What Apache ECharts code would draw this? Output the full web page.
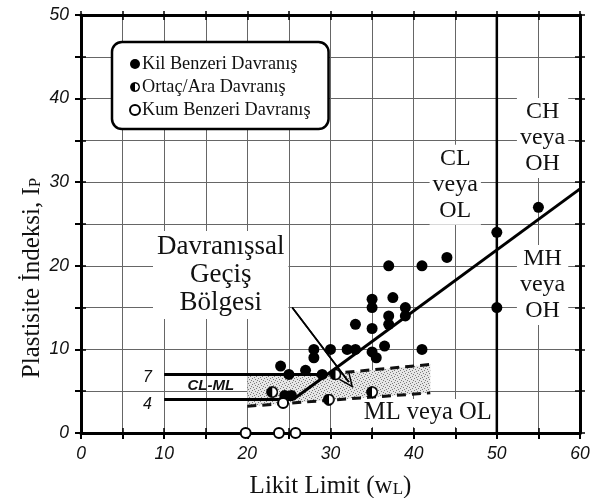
<!DOCTYPE html>
<html><head><meta charset="utf-8">
<script src="https://cdn.jsdelivr.net/npm/echarts@6/dist/echarts.min.js"></script>
<style>html,body{margin:0;padding:0;background:#fff}#chart{width:590px;height:498px}</style>
</head><body><div id="chart"></div>
<script>
// Plasticity chart: liquid limit wL (x) vs plasticity index IP (y)
const clayLike = [[50,24],[55,27],[50,15],[44,21],[41,20],[37,20],[41,10],[37.5,16.2],[35,16],[35,15],[39,15],[39,14],[37,14],[37,13],[33,13],[35,12.5],[36.5,10.4],[30,10],[32,10],[33,10],[35,9.7],[35.5,9],[28,10],[28,9],[24,8],[25,7],[27,7.5],[29,7],[24.5,4.5],[25.3,4.5]];
const intermediate = [[23,4.9],[35,4.9],[29.8,4],[30.6,7]];
const sandLike = [[19.8,0],[23.8,0],[25.8,0],[24.3,3.6]];
const aLine = [[25.5,4],[60,29.2]];
const clml7 = [[10,7],[29.6,7]];
const clml4 = [[10,4],[25.5,4]];
const boundary50 = [[50,0],[50,50]];
const zoneUpper = [[20,7],[29.6,7],[42,8.2]];
const zoneLower = [[20,3.2],[42,4.8]];
const zoneUpperDash = [[30,7.1],[42,8.2]];
const zoneLowerDash = [[20,3.2],[42,4.8]];
const arrowPath = [[25.4,15],[32.2,6.1]];
const xTicks = [0,10,20,30,40,50,60];
const yTicks = [0,10,20,30,40,50];
const names = ['Kil Benzeri Davranış','Ortaç/Ara Davranış','Kum Benzeri Davranış'];

const SERIF = '"Liberation Serif","Times New Roman",serif';
const SANS = '"Liberation Sans",Arial,sans-serif';
const INK = '#111';

// half-filled marker image
function halfMarker() {
  const c = document.createElement('canvas'); c.width = 32; c.height = 32;
  const g = c.getContext('2d');
  g.beginPath(); g.arc(16,16,13.5,0,Math.PI*2); g.fillStyle='#fff'; g.fill();
  g.beginPath(); g.moveTo(16,2.5); g.arc(16,16,13.5,-Math.PI/2,Math.PI/2,true); g.closePath(); g.fillStyle='#000'; g.fill();
  g.beginPath(); g.arc(16,16,13.5,0,Math.PI*2); g.lineWidth=4.5; g.strokeStyle='#000'; g.stroke();
  return 'image://' + c.toDataURL();
}
// stippled fill for the transition zone
function stipple() {
  const c = document.createElement('canvas'); c.width = 6; c.height = 6;
  const g = c.getContext('2d');
  g.fillStyle = '#e6e6e6'; g.fillRect(0,0,6,6);
  g.fillStyle = '#7a7a7a';
  [[0,0],[3,1],[1,3],[4,4],[5,2],[2,5]].forEach(p => g.fillRect(p[0],p[1],1,1));
  return c;
}

const chart = echarts.init(document.getElementById('chart'));

function baseAxis(pos, extra) {
  return Object.assign({
    type:'value', position:pos, min:0, interval:5,
    axisLine:{show:false, onZero:false},
    axisTick:{show:true, inside:true, length:5, lineStyle:{color:'#000', width:1.5}},
    axisLabel:{show:false}, splitLine:{show:false}
  }, extra);
}

const tickLabel = {fontFamily:SANS, fontStyle:'italic', fontSize:17.5, color:INK};
const hidden = {color:'transparent', opacity:1};

chart.setOption({
  animation:false,
  grid:{left:81, right:10, top:15, bottom:65, outerBoundsMode:'none', containLabel:false},
  xAxis:[
    baseAxis('bottom', {max:60,
      axisLine:{show:true, onZero:false, lineStyle:{color:'#000', width:3}},
      axisTick:{show:true, inside:false, length:6, lineStyle:{color:'#000', width:2}},
      axisLabel:Object.assign({show:true, margin:12, formatter:v => xTicks.includes(v) ? String(v) : ''}, tickLabel),
      splitLine:{show:true, lineStyle:{color:'#666', width:1}},
      name:'Likit Limit (w{s|L})', nameLocation:'middle', nameGap:41,
      nameTextStyle:{fontFamily:SERIF, fontSize:25, color:INK, rich:{s:{fontFamily:SERIF, fontSize:17, color:INK, padding:[7,0,0,0]}}}
    }),
    baseAxis('bottom', {max:60}),
    baseAxis('top', {max:60, axisLine:{show:true, onZero:false, lineStyle:{color:'#000', width:3}},
      axisTick:{show:true, inside:false, length:4, lineStyle:{color:'#000', width:1.5}}}),
    baseAxis('top', {max:60})
  ],
  yAxis:[
    baseAxis('left', {max:50,
      axisLine:{show:true, onZero:false, lineStyle:{color:'#000', width:3}},
      axisTick:{show:true, inside:false, length:6, lineStyle:{color:'#000', width:2}},
      axisLabel:Object.assign({show:true, margin:12, formatter:v => yTicks.includes(v) ? String(v) : ''}, tickLabel),
      splitLine:{show:true, lineStyle:{color:'#666', width:1}}
    }),
    baseAxis('left', {max:50}),
    baseAxis('right', {max:50, axisLine:{show:true, onZero:false, lineStyle:{color:'#000', width:3}},
      axisTick:{show:true, inside:false, length:5, lineStyle:{color:'#000', width:1.5}}}),
    baseAxis('right', {max:50})
  ],
  graphic:[
    { type:'text', x:32, y:278, rotation:Math.PI/2, z:10,
      style:{text:'Plastisite İndeksi, I{s|P}', align:'center', verticalAlign:'middle',
        font:'25px "Liberation Serif", serif', fill:INK,
        rich:{s:{fontFamily:SERIF, fontSize:17, fill:INK, padding:[7,0,0,0]}}} }
  ],
  legend:{
    data:names, orient:'vertical', left:112, top:42,
    backgroundColor:'#fff', borderColor:'#000', borderWidth:2.5, borderRadius:10,
    padding:[12,18,9,17], itemWidth:10, itemHeight:10, itemGap:3,
    textStyle:{fontFamily:SERIF, fontSize:18.3, color:INK, lineHeight:20, padding:[0,0,0,-3]},
    selectedMode:false
  },
  series:[
    { type:'custom', silent:true, z:1, data:[[0,0]],
      renderItem:(params, api) => {
        const pts = zoneUpper.map(p => api.coord(p)).concat(zoneLower.slice().reverse().map(p => api.coord(p)));
        return {type:'polygon', shape:{points:pts}, style:{fill:{image:stipple(), repeat:'repeat'}}};
      }},
    { type:'line', data:zoneUpperDash, symbol:'none', z:2, lineStyle:{color:'#111', width:3, type:[9,6]} },
    { type:'line', data:zoneLowerDash, symbol:'none', z:2, lineStyle:{color:'#111', width:3, type:[9,6]} },
    { type:'line', data:clml7, symbol:'none', z:3, lineStyle:{color:'#000', width:3} },
    { type:'line', data:clml4, symbol:'none', z:3, lineStyle:{color:'#000', width:3} },
    { type:'line', data:boundary50, symbol:'none', z:3, lineStyle:{color:'#000', width:2.5} },
    { type:'line', data:aLine, symbol:'none', z:3, lineStyle:{color:'#000', width:3} },
    { type:'line', data:arrowPath, symbol:'none', z:6, lineStyle:{color:'#000', width:1.6},
      markLine:{silent:true, symbol:['none','path://M6,0 L12,13 L10.6,13 L6,3.2 L1.4,13 L0,13 Z'], symbolSize:[13,15],
        label:{show:false}, lineStyle:{color:'#000', width:1.6, type:'solid'},
        data:[[{coord:arrowPath[0]},{coord:arrowPath[1]}]]} },
    { name:names[0], type:'scatter', data:clayLike, symbol:'circle', symbolSize:11, z:5, itemStyle:{color:'#000', opacity:1} },
    { name:names[1], type:'scatter', data:intermediate, symbol:halfMarker(), symbolSize:12, z:5, itemStyle:{opacity:1} },
    { name:names[2], type:'scatter', data:sandLike, symbol:'circle', symbolSize:10, z:5,
      itemStyle:{color:'#fff', borderColor:'#000', borderWidth:2, opacity:1} },
    // region annotations
    { type:'scatter', silent:true, z:7, symbolSize:1, itemStyle:hidden,
      label:{show:true, position:'inside', fontFamily:SERIF, fontSize:24, lineHeight:26, color:INK,
        backgroundColor:'#fff', padding:[1,3], align:'center'},
      data:[
        {value:[45.0,29.7], label:{formatter:'CL\nveya\nOL'}},
        {value:[55.5,35.3], label:{formatter:'CH\nveya\nOH'}},
        {value:[55.5,17.7], label:{formatter:'MH\nveya\nOH'}},
        {value:[41.7,2.4], label:{formatter:'ML veya OL', fontSize:24.5, lineHeight:26}},
        {value:[16.8,18.9], label:{formatter:'Davranışsal\nGeçiş\nBölgesi', fontSize:27, lineHeight:28, padding:[2,4]}}
      ]},
    { type:'scatter', silent:true, z:7, symbolSize:1, itemStyle:hidden,
      label:{show:true, position:'inside', fontFamily:SANS, fontStyle:'italic', fontSize:16, color:INK},
      data:[
        {value:[8.0,6.6], label:{formatter:'7'}},
        {value:[8.0,3.4], label:{formatter:'4'}},
        {value:[15.6,5.6], label:{formatter:'CL-ML', fontWeight:'bold', fontSize:15}}
      ]}
  ]
});
</script></body></html>
